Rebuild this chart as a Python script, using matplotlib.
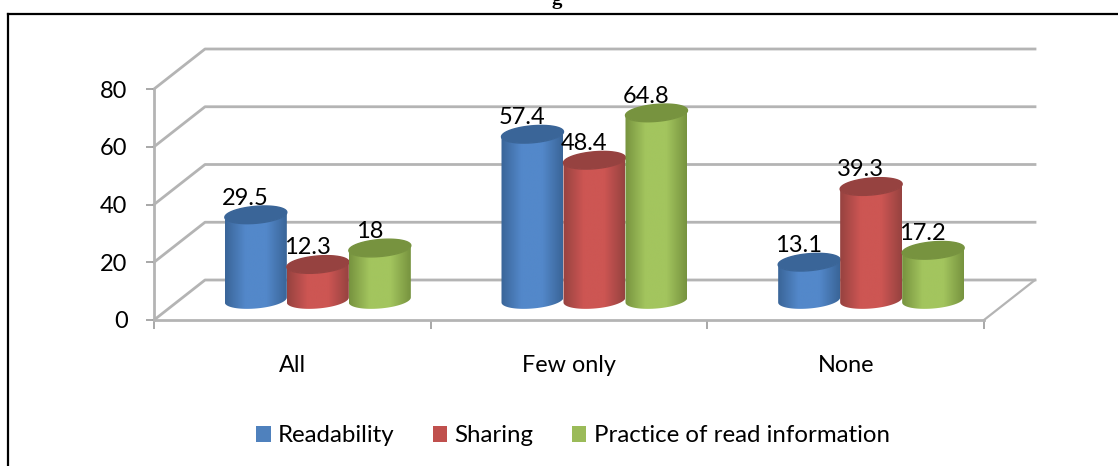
import numpy as np
import matplotlib
matplotlib.use('Agg')
import matplotlib.pyplot as plt
from matplotlib.patches import Patch, Polygon
from matplotlib.colors import LinearSegmentedColormap

plt.rcParams['font.family'] = ['Lato', 'DejaVu Sans']

categories = ['All', 'Few only', 'None']
series_names = ['Readability', 'Sharing', 'Practice of read information']
readability = [29.5, 57.4, 13.1]
sharing = [12.3, 48.4, 39.3]
practice = [18, 64.8, 17.2]
y_ticks = [0, 20, 40, 60, 80]

values = [readability, sharing, practice]
mid_colors = ['#4F81BD', '#C0504D', '#9BBB59']
light_colors = ['#5388CA', '#CD5653', '#A3C55E']
dark_colors = ['#3A6598', '#964240', '#77933F']

W, H = 1118, 466
fig = plt.figure(figsize=(W / 100, H / 100), dpi=100)

# front plane of the 3d box, in pixels
px_left, px_right, px_zero, px_top = 154, 984, 320, 89
ax = fig.add_axes([px_left / W, 1 - px_zero / H, (px_right - px_left) / W, (px_zero - px_top) / H])
ax.set_xlim(0, 3)
ax.set_ylim(0, 80)
ax.patch.set_alpha(0)

x_per_px = 3 / (px_right - px_left)
y_per_px = 80 / (px_zero - px_top)

# depth of the box
dx = 51 * x_per_px
dy = 40 * y_per_px

grid_col = '#B4B4B4'
for v in y_ticks:
    ax.plot([0, dx, 3 + dx], [v, v + dy, v + dy], color=grid_col, lw=2, clip_on=False, zorder=1)
ax.plot([3, 3 + dx], [0, dy], color=grid_col, lw=1.6, clip_on=False, zorder=1)

for s in ['top', 'right']:
    ax.spines[s].set_visible(False)
for s in ['left', 'bottom']:
    ax.spines[s].set_color(grid_col)
    ax.spines[s].set_linewidth(2)

ax.set_yticks(y_ticks)
ax.set_xticks([0, 1, 2, 3])
ax.set_xticklabels([])
ax.set_xticks([0.5, 1.5, 2.5], minor=True)
ax.set_xticklabels(categories, minor=True, fontsize=16.8)
ax.tick_params(axis='x', which='major', length=6.5, width=1.2, color='#999999')
ax.tick_params(axis='x', which='minor', length=0, pad=25)
ax.tick_params(axis='y', length=6, width=1.2, color='#999999', labelsize=17, pad=13)

# cylinders
bar_w = 62 * x_per_px
a = 31 * x_per_px
b = 8.5 * y_per_px
rise = 2.5 * y_per_px
base_y = 20 * y_per_px
t = np.linspace(0, 2 * np.pi, 80)
t_low = np.linspace(np.pi, 2 * np.pi, 40)


def ell_pts(cx, cy, tt):
    xs = cx + a * np.cos(tt)
    ys = cy + b * np.sin(tt) + rise * np.cos(tt)
    return xs, ys


for i, name in enumerate(series_names):
    cmap = LinearSegmentedColormap.from_list('c', [dark_colors[i], light_colors[i], light_colors[i], dark_colors[i]])
    grad = np.linspace(0, 1, 200).reshape(1, -1)
    for j, val in enumerate(values[i]):
        cx = j + 0.5 + dx / 2 + (i - 1) * bar_w
        top = val + base_y
        xl, yl = ell_pts(cx, base_y, t_low)
        verts = np.vstack([np.column_stack([xl, yl]), np.column_stack([xl[::-1], yl[::-1] + val])])
        body = Polygon(verts, closed=True, facecolor='none', edgecolor='none',
                       clip_on=False, zorder=3 + i + 0.1 * j)
        ax.add_patch(body)
        im = ax.imshow(grad, cmap=cmap, extent=[cx - a, cx + a, 0, top + 5], aspect='auto',
                       zorder=3 + i + 0.1 * j, interpolation='bilinear')
        im.set_clip_path(body)
        xt, yt = ell_pts(cx, top, t)
        ax.fill(xt, yt, color=dark_colors[i], zorder=3.05 + i + 0.1 * j, clip_on=False)
        ax.annotate(str(val), xy=(cx, top), xytext=(-7.5, 12), textcoords='offset points',
                    ha='center', va='center', fontsize=17, color='black', zorder=8, annotation_clip=False)

ax.set_xlim(0, 3)
ax.set_ylim(0, 80)
ax.set_aspect('auto')

handles = [Patch(facecolor=c, edgecolor='none') for c in mid_colors]
fig.legend(handles, series_names, loc='center', bbox_to_anchor=(573 / W, 1 - 436 / H), ncol=3, frameon=False,
           fontsize=17.3, handlelength=0.6, handleheight=0.67, handletextpad=0.3, columnspacing=1.6)

# only the left and top of the box are drawn in this crop
fig.add_artist(plt.Line2D([8 / W, 8 / W], [0, 1 - 14 / H], color='black', lw=1.6))
fig.add_artist(plt.Line2D([8 / W, 1], [1 - 14 / H, 1 - 14 / H], color='black', lw=1.6))
fig.text(557 / W, 1 + 1 / H, 'g', ha='center', va='center', fontsize=15, fontweight='bold', family='Liberation Serif')

fig.savefig('out.png', dpi=100)
